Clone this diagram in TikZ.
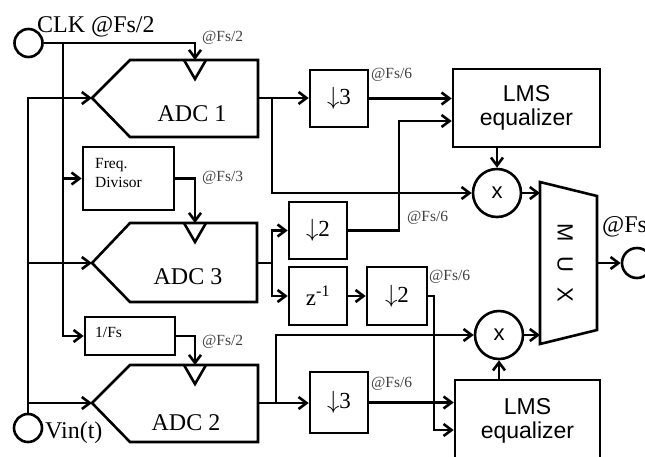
\documentclass[tikz,border=0pt]{standalone}
\usepackage{fontspec}
\setmainfont{Liberation Serif}
\newfontfamily\sansf{Liberation Sans}
\usetikzlibrary{arrows.meta}
\newcommand{\dnar}{$\downarrow$}
\begin{document}
\begin{tikzpicture}[x=1pt,y=-1pt,
  wire/.style={line width=2.6pt},
  arr/.style={wire,-{Straight Barb[length=8pt,width=12pt]}},
  blk/.style={draw,line width=2.6pt,inner sep=0pt},
  adcshape/.style={draw,line width=2.6pt,line join=miter},
  big/.style={font=\fontsize{24}{26}\selectfont,inner sep=0pt},
  sml/.style={font=\fontsize{15.5}{19}\selectfont,inner sep=0pt},
  tag/.style={font=\fontsize{15.5}{17}\selectfont,text=black!75,inner sep=0pt,anchor=west},
  sbig/.style={font=\sansf\fontsize{23}{23.5}\selectfont,align=center},
  dsbox/.style={blk,font=\fontsize{23}{25}\selectfont},
]
\useasboundingbox (0,0) rectangle (645,456);

% ---------------- terminals
\node[blk,circle,minimum size=28pt] (clk) at (28.5,43) {};
\node[blk,circle,minimum size=28pt] (vin) at (28,428) {};
\node[blk,circle,minimum size=30pt] (out) at (637,263) {};
\node[big,anchor=base west] (clkt) at (37,32) {CLK @Fs/2};
\node[big,anchor=base west] (vint) at (45,438) {Vin(t)};
\node[big,anchor=base west] (outt) at (602,232) {@Fs};

% ---------------- ADCs
\draw[adcshape] (92,98) coordinate (a1in) -- (130,60) -- (258,60) -- (258,137) -- (130,137) -- cycle;
\draw[adcshape] (184,60) -- (195,79) -- (206,60);
\coordinate (a1c) at (195,60);
\coordinate (a1out) at (258,98);
\node[big] (a1t) at (192,114) {ADC 1};

\draw[adcshape] (92,263) coordinate (a3in) -- (130,223) -- (257,223) -- (257,302) -- (130,302) -- cycle;
\draw[adcshape] (184,223) -- (195,242) -- (206,223);
\coordinate (a3c) at (195,223);
\coordinate (a3out) at (257,263);
\node[big] (a3t) at (188,277) {ADC 3};

\draw[adcshape] (92,403) coordinate (a2in) -- (130,365) -- (258,365) -- (258,442) -- (130,442) -- cycle;
\draw[adcshape] (184,365) -- (195,384) -- (206,365);
\coordinate (a2c) at (195,365);
\coordinate (a2out) at (258,403);
\node[big] (a2t) at (186,423) {ADC 2};

% ---------------- clock blocks
\node[blk,minimum width=91pt,minimum height=63pt] (fdiv) at (128.5,178.5) {};
\node[sml,anchor=west,align=left] (fdivt) at (95,173) {Freq.\\Divisor};
\node[blk,minimum width=90pt,minimum height=38pt] (fs1) at (130,336) {};
\node[sml,anchor=west] (fs1t) at (95,332) {1/Fs};

% ---------------- DSP blocks
\node[dsbox,minimum width=58pt,minimum height=57pt] (d3a) at (339,98.5) {\dnar3};
\node[dsbox,minimum width=58pt,minimum height=57pt] (d2a) at (318,230.5) {\dnar2};
\node[dsbox,minimum width=58pt,minimum height=58pt] (zinv) at (318,296) {z\textsuperscript{-1}};
\node[dsbox,minimum width=60pt,minimum height=58pt] (d2b) at (397,296) {\dnar2};
\node[dsbox,minimum width=58pt,minimum height=61pt] (d3b) at (339,402.5) {\dnar3};

\node[blk,sbig,minimum width=147pt,minimum height=78pt] (lms1) at (526.5,108) {LMS\\equalizer};
\node[blk,sbig,minimum width=145pt,minimum height=82pt] (lms2) at (527.5,421) {LMS\\equalizer};

\node[blk,circle,minimum size=48pt,font=\sansf\fontsize{22}{22}\selectfont] (m1) at (497,193) {x};
\node[blk,circle,minimum size=48pt,font=\sansf\fontsize{22}{22}\selectfont] (m2) at (499,335) {x};

\draw[adcshape] (540,182) -- (597,196) -- (597,330) -- (540,344) -- cycle;
\coordinate (muxL) at (540,263);
\coordinate (muxR) at (597,263);
\node[rotate=-90,font=\sansf\fontsize{22}{22}\selectfont,inner sep=0pt] (muxt) at (565,263) {M\hspace{0.69em}U\hspace{0.69em}X};

% ---------------- rate tags
\node[tag] (t1) at (202,38) {@Fs/2};
\node[tag] (t2) at (202,178) {@Fs/3};
\node[tag] (t3) at (202,342) {@Fs/2};
\node[tag] (t4) at (371,75) {@Fs/6};
\node[tag] (t5) at (407,218) {@Fs/6};
\node[tag] (t6) at (429,277) {@Fs/6};
\node[tag] (t7) at (371,384) {@Fs/6};

% ---------------- clock wiring
\coordinate (cj) at (63,43);
\draw[arr] (clk.east) -| (a1c);
\draw[arr] (cj) |- (fdiv.west);
\draw[arr] (cj) |- (fs1.west);
\draw[arr] (fdiv.east) -| (a3c);
\draw[arr] (fs1.east) -| (a2c);

% ---------------- input wiring
\draw[arr] (vin.north) |- (a1in);
\draw[arr] (vin.north) |- (a3in);
\draw[arr] (vin.north) |- (a2in);

% ---------------- ADC 1 path
\coordinate (j1) at (272,98);
\draw[arr] (a1out) -- (d3a.west |- a1out);
\draw[arr] (j1) |- (m1.west);
\draw[arr] (d3a.east) -- (d3a.east -| lms1.west);
\coordinate (k1) at (399,121);
\draw[arr] (d2a.east) -| (k1) -- (k1 -| lms1.west);
\draw[arr] (m1 |- lms1.south) -- (m1.north);
\draw[arr] (m1.east) -- (m1.east -| muxL);

% ---------------- ADC 3 path
\coordinate (j3) at (272,263);
\draw[wire] (a3out) -- (j3);
\draw[arr] (j3) |- (d2a.west);
\draw[arr] (j3) |- (zinv.west);
\draw[arr] (zinv) -- (d2b);
\coordinate (k2) at (434,430);
\draw[arr] (d2b.east) -| (k2) -- (k2 -| lms2.west);

% ---------------- ADC 2 path
\coordinate (j2) at (276,403);
\draw[arr] (a2out) -- (d3b.west |- a2out);
\draw[arr] (j2) |- (m2.west);
\draw[arr] (d3b.east) -- (d3b.east -| lms2.west);
\draw[arr] (m2 |- lms2.north) -- (m2.south);
\draw[arr] (m2.east) -- (m2.east -| muxL);

% ---------------- output
\draw[arr] (muxR) -- (out.west);
\end{tikzpicture}
\end{document}
